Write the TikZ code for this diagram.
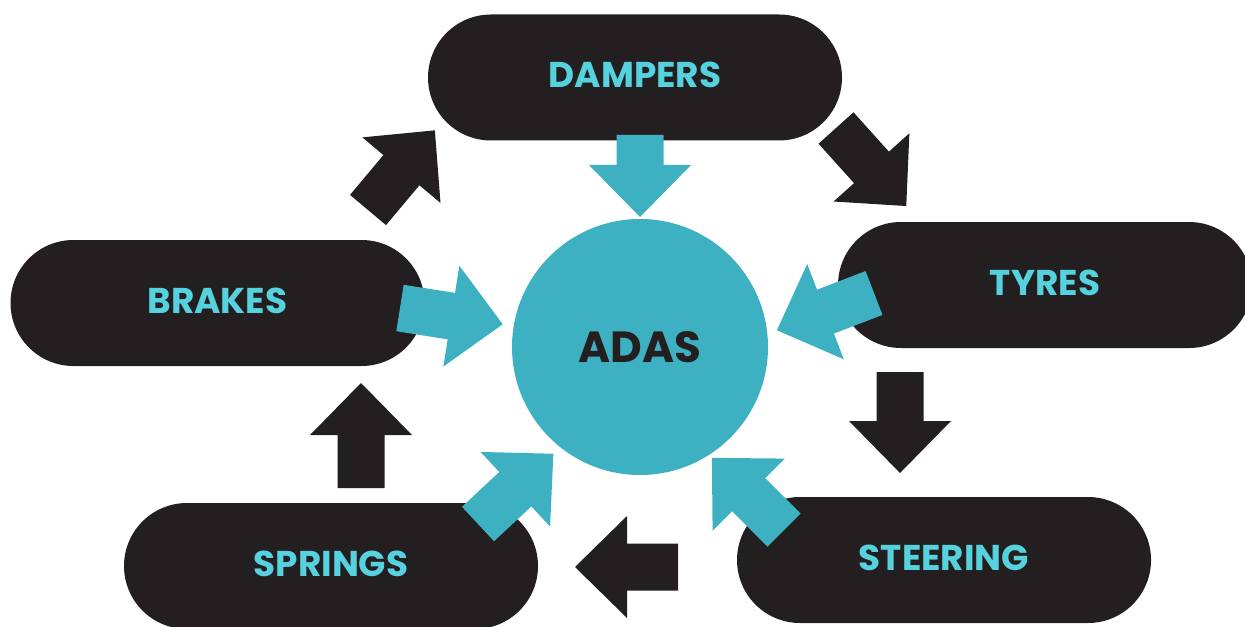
\documentclass[tikz,border=0pt]{standalone}
\usepackage{fontspec}
\setmainfont{Poppins}
\usetikzlibrary{shapes.misc}

\definecolor{pillblack}{HTML}{231F20}
\definecolor{adascyan}{HTML}{3DB1C1}
\definecolor{labelcyan}{HTML}{55D2DE}

\tikzset{
    pill/.style={rounded rectangle, fill=pillblack, text=labelcyan,
        minimum width=4.14cm, minimum height=1.26cm, inner sep=0pt,
        text height=0.22cm, text depth=0.02cm,
        font=\bfseries\fontsize{10.2}{12}\selectfont},
    pics/blockarrow/.style={code={
        \fill (0,-0.235) -- (#1-0.52,-0.235) -- (#1-0.52,-0.51) -- (#1,0)
            -- (#1-0.52,0.51) -- (#1-0.52,0.235) -- (0,0.235) -- cycle;
    }},
    flowarrow/.style={fill=pillblack},
    feedarrow/.style={fill=adascyan}
}

\begin{document}
\begin{tikzpicture}
    \useasboundingbox (0,0) rectangle (12.45,6.26);

    % the five parts round the centre
    \node[pill] (dampers) at (6.35,5.485) {DAMPERS};
    \node[pill] (brakes) at (2.175,3.23) {BRAKES};
    \node[pill] (tyres) at (10.45,3.41) {TYRES};
    \node[pill] (springs) at (3.31,0.60) {SPRINGS};
    \node[pill] (steering) at (9.44,0.66) {STEERING};

    \node[circle, fill=adascyan, minimum size=2.56cm, text=pillblack,
        font=\bfseries\fontsize{12.4}{14}\selectfont] (adas) at (6.40,2.79) {ADAS};

    % black arrows going round
    \pic[flowarrow, rotate=50] (brakestodampers) at (3.68,4.16) {blockarrow=1.04};
    \pic[flowarrow, rotate=-48] (damperstotyres) at (8.36,4.98) {blockarrow=1.05};
    \pic[flowarrow, rotate=-90] (tyrestosteering) at (9.00,2.54) {blockarrow=1.01};
    \pic[flowarrow, rotate=180] (steeringtosprings) at (6.78,0.59) {blockarrow=1.03};
    \pic[flowarrow, rotate=90] (springstobrakes) at (3.61,1.38) {blockarrow=1.05};

    % cyan arrows into ADAS
    \pic[feedarrow, rotate=-90] (dampersin) at (6.40,4.91) {blockarrow=0.82};
    \pic[feedarrow, rotate=-9] (brakesin) at (4.00,3.18) {blockarrow=1.04};
    \pic[feedarrow, rotate=201] (tyresin) at (8.74,3.33) {blockarrow=1.04};
    \pic[feedarrow, rotate=43] (springsin) at (4.78,1.02) {blockarrow=1.03};
    \pic[feedarrow, rotate=135] (steeringin) at (7.84,0.96) {blockarrow=1.02};
\end{tikzpicture}
\end{document}
